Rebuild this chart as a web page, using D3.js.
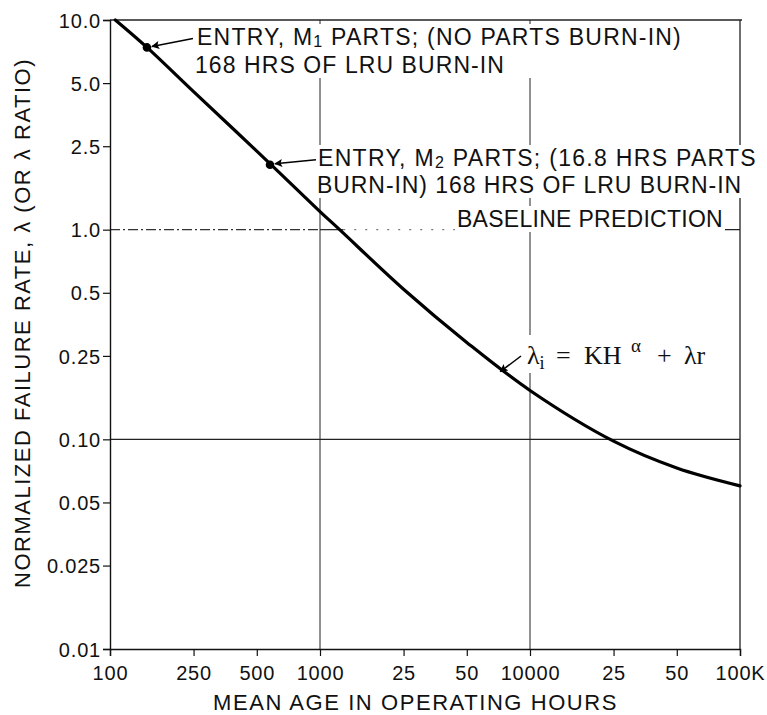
<!DOCTYPE html>
<html>
<head>
<meta charset="utf-8">
<script src="https://cdn.jsdelivr.net/npm/d3@7/dist/d3.min.js"></script>
<style>
  html, body { margin: 0; padding: 0; background: #fff; }
  svg { display: block; }
  text { font-family: "Liberation Sans", Arial, Helvetica, sans-serif; fill: #111; }
</style>
</head>
<body>
<svg id="chart" width="767" height="715"></svg>
<script>
// ---- data ----
const hours = [106, 150, 250, 500, 1000, 1240, 2500, 5000, 10000, 25000, 50000, 100000];
const rate  = [10.0, 7.4, 4.55, 2.37, 1.22, 1.0, 0.52, 0.29, 0.171, 0.098, 0.073, 0.060];

const entryHours = [150, 578];
const entryRate  = [7.4, 2.04];

const xTickValues = [100, 250, 500, 1000, 2500, 5000, 10000, 25000, 50000, 100000];
const xTickLabels = ["100", "250", "500", "1000", "25", "50", "10000", "25", "50", "100K"];
const yTickValues = [0.01, 0.025, 0.05, 0.1, 0.25, 0.5, 1, 2.5, 5, 10];
const yTickLabels = ["0.01", "0.025", "0.05", "0.10", "0.25", "0.5", "1.0", "2.5", "5.0", "10.0"];

const xGridValues = [1000, 10000];
const yGridValues = [0.1];

// ---- layout ----
const svg = d3.select("#chart");
const mL = 110, mR = 740, mT = 20, mB = 649;

const x = d3.scaleLog().domain([100, 100000]).range([mL, mR]);
const y = d3.scaleLog().domain([0.01, 10]).range([mB, mT]);

// spread an element's letters so that it is `w` px wide
function fit(t, w) {
  t.style("letter-spacing", "0px");
  const n = t.text().length;
  const nat = t.node().getComputedTextLength();
  t.style("letter-spacing", ((w - nat) / n) + "px");
}

const g = svg.append("g");

// grid lines
g.selectAll(".vgrid").data(xGridValues).join("line")
  .attr("x1", d => x(d)).attr("x2", d => x(d))
  .attr("y1", mT).attr("y2", mB)
  .attr("stroke", "#222").attr("stroke-width", 1);

g.selectAll(".hgrid").data(yGridValues).join("line")
  .attr("x1", mL).attr("x2", mR)
  .attr("y1", d => y(d)).attr("y2", d => y(d))
  .attr("stroke", "#222").attr("stroke-width", 1.2);

// baseline (1.0) line, drawn in segments like the scan
const baseSegs = [
  {a: 100, b: 1000, dash: "10,3,2,3", col: "#333"},
  {a: 1000, b: 1290, dash: null, col: "#222"},
  {a: 1290, b: 4500, dash: "2,9", col: "#777"},
  {a: 4500, b: 100000, dash: null, col: "#222"}
];
g.selectAll(".base").data(baseSegs).join("line")
  .attr("x1", d => x(d.a)).attr("x2", d => x(d.b))
  .attr("y1", y(1)).attr("y2", y(1))
  .attr("stroke", d => d.col).attr("stroke-width", 1.2)
  .attr("stroke-dasharray", d => d.dash);

// frame: top and right
g.append("line").attr("x1", mL).attr("x2", mR + 2).attr("y1", y(10)).attr("y2", y(10))
  .attr("stroke", "#222").attr("stroke-width", 1.3);
g.append("line").attr("x1", mR).attr("x2", mR).attr("y1", mT).attr("y2", mB)
  .attr("stroke", "#222").attr("stroke-width", 1.3);

// axes
const xAxis = d3.axisBottom(x).tickValues(xTickValues)
  .tickFormat((d, i) => xTickLabels[i]).tickSize(7).tickPadding(6);
const yAxis = d3.axisLeft(y).tickValues(yTickValues)
  .tickFormat((d, i) => yTickLabels[i]).tickSize(7).tickPadding(2);

const gx = svg.append("g").attr("transform", `translate(0,${mB})`).call(xAxis);
const gy = svg.append("g").attr("transform", `translate(${mL},0)`).call(yAxis);
[gx, gy].forEach(a => {
  a.select(".domain").attr("stroke", "#111").attr("stroke-width", 1.4);
  a.selectAll(".tick line").attr("stroke", "#111").attr("stroke-width", 1.2);
  a.selectAll(".tick text").attr("fill", "#111")
    .style("font-family", '"Liberation Sans", Arial, sans-serif')
    .style("font-size", "20px").style("letter-spacing", "0.8px");
});
gx.selectAll(".tick text").attr("dy", "0.92em");
gy.selectAll(".tick text").attr("dy", "0.36em");

// axis titles
const xt = svg.append("text")
  .attr("x", 213).attr("y", 710)
  .style("font-size", "22px")
  .text("MEAN AGE IN OPERATING HOURS");
fit(xt, 405);

const yt = svg.append("text")
  .attr("transform", "translate(30,588) rotate(-90)")
  .style("font-size", "22px")
  .text("NORMALIZED FAILURE RATE, λ (OR λ RATIO)");
fit(yt, 530);

// curve
const pts = hours.map((h, i) => [x(h), y(rate[i])]);
const line = d3.line().curve(d3.curveCatmullRom.alpha(0.5));
svg.append("path").attr("d", line(pts))
  .attr("fill", "none").attr("stroke", "#000").attr("stroke-width", 3.2)
  .attr("stroke-linecap", "round");

// entry dots
svg.selectAll(".dot").data(entryHours).join("circle")
  .attr("cx", (d) => x(d)).attr("cy", (d, i) => y(entryRate[i]))
  .attr("r", 4.3).attr("fill", "#000");

// arrowhead marker
svg.append("defs").append("marker")
  .attr("id", "ah").attr("viewBox", "0 0 10 10").attr("refX", 9).attr("refY", 5)
  .attr("markerWidth", 13).attr("markerHeight", 8).attr("orient", "auto")
  .attr("markerUnits", "userSpaceOnUse")
  .append("path").attr("d", "M0,0 L10,5 L0,10 L2,5 z").attr("fill", "#000");

// annotations: one text element per block, one tspan per line (white backing)
const notes = svg.append("g");
function note(lines, size, family) {
  const t = notes.append("text").style("font-size", size + "px");
  if (family) t.style("font-family", family);
  lines.forEach(L => {
    const ln = t.append("tspan").attr("x", L.x).attr("y", L.y);
    L.parts.forEach(p => {
      const s = ln.append("tspan").text(p.t);
      if (p.sub) s.style("font-size", (size * 0.7) + "px");
      if (p.dy !== undefined) s.attr("dy", p.dy);
      if (p.x !== undefined) s.attr("x", p.x);
      if (p.fs) s.style("font-size", p.fs + "px");
    });
    if (L.w) fit(ln, L.w);
  });
  const bb = t.node().getBBox();
  notes.insert("rect", () => t.node())
    .attr("x", bb.x - 2).attr("y", bb.y).attr("width", bb.width + 4).attr("height", bb.height)
    .attr("fill", "#fff");
  return t;
}

note([
  {x: 197, y: 45, w: 485, parts: [{t: "ENTRY, M"}, {t: "1", sub: true, dy: 2}, {t: " PARTS; (NO PARTS BURN-IN)", dy: -2}]},
  {x: 195, y: 73, w: 310, parts: [{t: "168 HRS OF LRU BURN-IN"}]}
], 23);
note([
  {x: 318, y: 166, w: 439, parts: [{t: "ENTRY, M"}, {t: "2", sub: true, dy: 2}, {t: " PARTS; (16.8 HRS PARTS", dy: -2}]},
  {x: 317, y: 193, w: 425, parts: [{t: "BURN-IN) 168 HRS OF LRU BURN-IN"}]}
], 23);
note([
  {x: 457, y: 227, w: 266, parts: [{t: "BASELINE PREDICTION"}]}
], 23);
note([
  {x: 527, y: 364, parts: [
    {t: "λ"}, {t: "i", sub: true, dy: 5},
    {t: "=", x: 556, dy: -5},
    {t: "KH", x: 584},
    {t: "α", x: 631, fs: 19, dy: -12},
    {t: "+", x: 657, dy: 12},
    {t: "λr", x: 684}
  ]}
], 26, '"Liberation Serif", "Times New Roman", serif');

// arrows pointing at curve / entry dots
const arrows = [
  {x1: x(entryHours[0]) + 46, y1: y(entryRate[0]) - 9, x2: x(entryHours[0]) + 5, y2: y(entryRate[0]) - 1},
  {x1: x(entryHours[1]) + 46, y1: y(entryRate[1]) - 5, x2: x(entryHours[1]) + 5, y2: y(entryRate[1]) - 1},
  {x1: 521, y1: 356, x2: x(7300) - 1, y2: y(0.215) + 2}
];
svg.selectAll(".arr").data(arrows).join("line")
  .attr("x1", d => d.x1).attr("y1", d => d.y1).attr("x2", d => d.x2).attr("y2", d => d.y2)
  .attr("stroke", "#000").attr("stroke-width", 1.5).attr("marker-end", "url(#ah)");
</script>
</body>
</html>
